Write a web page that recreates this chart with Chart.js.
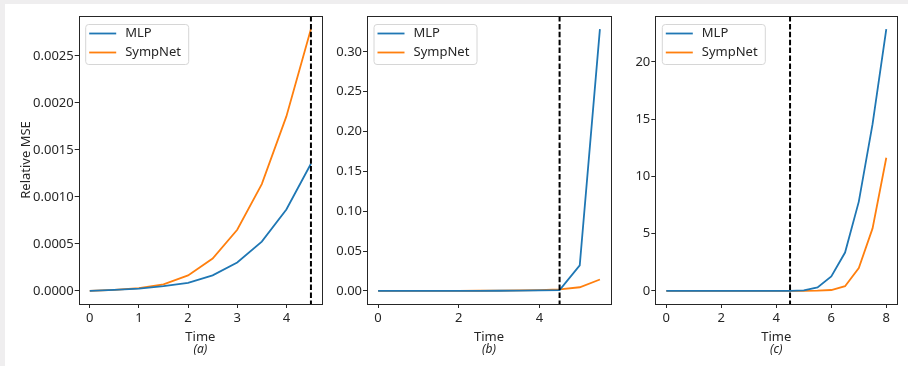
<!DOCTYPE html>
<html>
<head>
<meta charset="utf-8">
<script src="https://cdn.jsdelivr.net/npm/chart.js@4.4.1/dist/chart.umd.min.js"></script>
<style>
  html, body { margin: 0; padding: 0; }
  body { width: 908px; height: 366px; background: #efeeef; position: relative; overflow: hidden; }
  .sheet { position: absolute; left: 5px; top: 4px; width: 903px; height: 362px; background: #fff; }
  canvas { position: absolute; top: 4px; }
  #chartA { left: 5px; }
  #chartB { left: 330px; }
  #chartC { left: 620px; }
</style>
</head>
<body>
<div class="sheet"></div>
<canvas id="chartA" width="325" height="362"></canvas>
<canvas id="chartB" width="290" height="362"></canvas>
<canvas id="chartC" width="288" height="362"></canvas>
<script>
// end of the training window (dashed line)
const trainEnd = 4.5;

// (a)
const timeA = [0, 0.5, 1, 1.5, 2, 2.5, 3, 3.5, 4, 4.5];
const mlpA = [0, 0.00001, 0.000025, 0.00005, 0.000086, 0.000165, 0.000302, 0.000525, 0.000867, 0.001353];
const sympA = [0, 0.00001, 0.00003, 0.00007, 0.000165, 0.000345, 0.000651, 0.001137, 0.001857, 0.002786];
const xTicksA = [0, 1, 2, 3, 4];
const yTicksA = [0, 0.0005, 0.001, 0.0015, 0.002, 0.0025];

// (b)
const timeB = [0, 0.5, 1, 1.5, 2, 2.5, 3, 3.5, 4, 4.5, 5, 5.5];
const mlpB = [0, 0.00001, 0.00002, 0.00004, 0.00007, 0.00012, 0.0002, 0.00035, 0.0006, 0.001, 0.032, 0.3286];
const sympB = [0, 0.00001, 0.00003, 0.00006, 0.0001, 0.0002, 0.0004, 0.0007, 0.0011, 0.0018, 0.0046, 0.0143];
const xTicksB = [0, 2, 4];
const yTicksB = [0, 0.05, 0.1, 0.15, 0.2, 0.25, 0.3];

// (c)
const timeC = [0, 0.5, 1, 1.5, 2, 2.5, 3, 3.5, 4, 4.5, 5, 5.5, 6, 6.5, 7, 7.5, 8];
const mlpC = [0, 0, 0, 0, 0, 0, 0, 0, 0.001, 0.002, 0.05, 0.3, 1.26, 3.35, 7.8, 14.56, 22.87];
const sympC = [0, 0, 0, 0, 0, 0, 0, 0, 0.001, 0.003, 0.01, 0.02, 0.08, 0.41, 1.99, 5.46, 11.63];
const xTicksC = [0, 2, 4, 6, 8];
const yTicksC = [0, 5, 10, 15, 20];

const blue = '#1f77b4';
const orange = '#ff7f0e';
const axisColor = '#262626';
const textColor = '#262626';
const fontFamily = '"Noto Sans", "Open Sans", sans-serif';

Chart.defaults.font.family = fontFamily;
Chart.defaults.color = textColor;

// matplotlib style 5% margins
function padRange(vals) {
    let lo = Math.min(...vals), hi = Math.max(...vals);
    let m = (hi - lo) * 0.05;
    return [lo - m, hi + m];
}

// frame + dashed line + inside legend + panel caption
const framePlugin = {
    id: 'frame',
    afterDatasetsDraw(chart, args, opts) {
        const ctx = chart.ctx;
        const a = chart.chartArea;
        const x = chart.scales.x.getPixelForValue(trainEnd);
        ctx.save();
        ctx.beginPath();
        ctx.rect(a.left, a.top, a.right - a.left, a.bottom - a.top);
        ctx.clip();
        ctx.strokeStyle = '#000';
        ctx.lineWidth = 2;
        ctx.setLineDash([5.5, 2.4]);
        ctx.beginPath();
        ctx.moveTo(x, a.top);
        ctx.lineTo(x, a.bottom);
        ctx.stroke();
        ctx.restore();

        ctx.save();
        ctx.strokeStyle = axisColor;
        ctx.lineWidth = 1;
        ctx.strokeRect(Math.round(a.left) + 0.5, Math.round(a.top) + 0.5,
            Math.round(a.right - a.left), Math.round(a.bottom - a.top));

        // legend box
        const bx = a.left + 6.5, by = a.top + 8, bw = 103, bh = 40;
        ctx.fillStyle = 'rgba(255,255,255,0.8)';
        ctx.strokeStyle = '#d6d6d6';
        ctx.beginPath();
        ctx.roundRect(bx + 0.5, by + 0.5, bw, bh, 3);
        ctx.fill();
        ctx.stroke();
        ctx.font = '13px ' + fontFamily;
        ctx.textBaseline = 'middle';
        chart.data.datasets.forEach((ds, i) => {
            const cy = by + 9.5 + i * 19;
            ctx.strokeStyle = ds.borderColor;
            ctx.lineWidth = 1.8;
            ctx.beginPath();
            ctx.moveTo(bx + 4, cy);
            ctx.lineTo(bx + 31, cy);
            ctx.stroke();
            ctx.fillStyle = textColor;
            ctx.fillText(ds.label, bx + 40, cy);
        });

        // caption under the axis title
        ctx.font = 'italic 12px ' + fontFamily;
        ctx.textAlign = 'center';
        ctx.fillStyle = textColor;
        ctx.fillText(opts.caption, (a.left + a.right) / 2, a.bottom + 45.5);
        ctx.restore();
    }
};

function makeChart(id, time, mlp, symp, xTicks, yTicks, fmt, yAxisWidth, rightPad, yTitle, panel) {
    const xr = padRange(time);
    const yr = padRange(mlp.concat(symp));
    const toPts = arr => arr.map((v, i) => ({ x: time[i], y: v }));
    return new Chart(document.getElementById(id), {
        type: 'line',
        data: {
            datasets: [
                { label: 'MLP', data: toPts(mlp), borderColor: blue, borderWidth: 1.8, pointRadius: 0, tension: 0 },
                { label: 'SympNet', data: toPts(symp), borderColor: orange, borderWidth: 1.8, pointRadius: 0, tension: 0 }
            ]
        },
        options: {
            responsive: false,
            animation: false,
            layout: { padding: { top: 12, right: rightPad, left: 0, bottom: 22.5 } },
            plugins: {
                legend: { display: false },
                tooltip: { enabled: false },
                frame: { caption: '(' + panel + ')' }
            },
            scales: {
                x: {
                    type: 'linear',
                    min: xr[0],
                    max: xr[1],
                    afterBuildTicks: s => { s.ticks = xTicks.map(v => ({ value: v })); },
                    afterFit: s => { s.height = 39.5; },
                    border: { display: false },
                    grid: { display: true, drawOnChartArea: false, drawTicks: true, tickLength: 4, color: axisColor },
                    ticks: { font: { size: 13 }, padding: 2, maxRotation: 0, autoSkip: false },
                    title: { display: true, text: 'Time', font: { size: 13, lineHeight: 1.0 }, padding: 0 }
                },
                y: {
                    type: 'linear',
                    min: yr[0],
                    max: yr[1],
                    afterBuildTicks: s => { s.ticks = yTicks.map(v => ({ value: v })); },
                    afterFit: s => { s.width = yAxisWidth; },
                    border: { display: false },
                    grid: { display: true, drawOnChartArea: false, drawTicks: true, tickLength: 4, color: axisColor },
                    ticks: { font: { size: 13 }, padding: 1, autoSkip: false, callback: v => fmt(v) },
                    title: { display: !!yTitle, text: yTitle, font: { size: 13, lineHeight: 1.2 }, padding: { top: 13, bottom: 0 } }
                }
            }
        },
        plugins: [framePlugin]
    });
}

makeChart('chartA', timeA, mlpA, sympA, xTicksA, yTicksA, v => v.toFixed(4), 73.7, 8, 'Relative MSE', 'a');
makeChart('chartB', timeB, mlpB, sympB, xTicksB, yTicksB, v => v.toFixed(2), 37, 9, '', 'b');
makeChart('chartC', timeC, mlpC, sympC, xTicksC, yTicksC, v => v.toFixed(0), 35.3, 10.7, '', 'c');
</script>
</body>
</html>
